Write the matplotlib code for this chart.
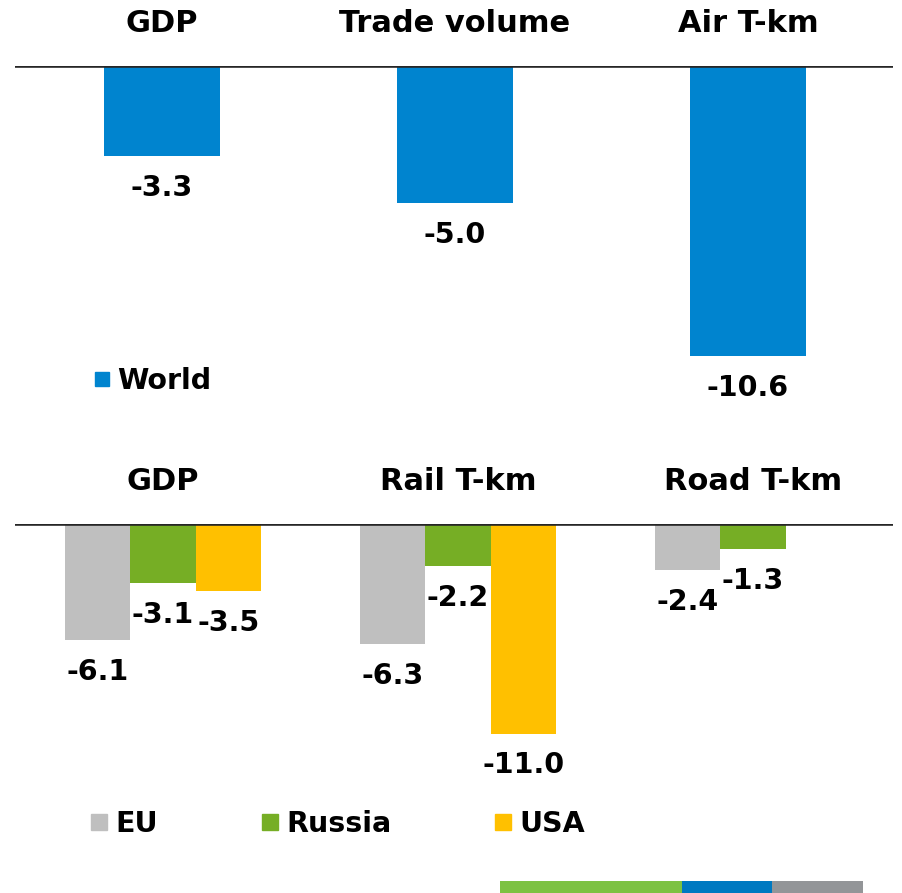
import matplotlib
matplotlib.use("Agg")
import matplotlib.pyplot as plt
from matplotlib.lines import Line2D

# data
top_cats = ["GDP", "Trade volume", "Air T-km"]
world = [-3.3, -5.0, -10.6]

bot_cats = ["GDP", "Rail T-km", "Road T-km"]
eu = [-6.1, -6.3, -2.4]
russia = [-3.1, -2.2, -1.3]
usa = [-3.5, -11.0, None]

strip_widths = [182, 90, 91]
strip_colors = ["#7DC242", "#0079C1", "#939598"]

c_world = "#0084CF"
c_eu = "#BFBFBF"
c_ru = "#76AE25"
c_us = "#FFC000"

W, H = 903, 893
plt.rcParams["font.family"] = "DejaVu Sans"
plt.rcParams["font.weight"] = "bold"
fig = plt.figure(figsize=(W / 100, H / 100), dpi=100)


def px_axes(x0, y0, x1, y1):
    # axes from pixel box (top-left origin)
    return fig.add_axes([x0 / W, 1 - y1 / H, (x1 - x0) / W, (y1 - y0) / H])


title_fs = 22
val_fs = 20.5
leg_fs = 20.5
line_c = "#262626"

# ---- top panel ----
ax1 = px_axes(15, 66, 893, 420)
scale1 = 27.35
ax1.set_xlim(-0.502, 2.495)
ax1.set_ylim(-(420 - 66) / scale1, 0)
x = range(len(world))
ax1.bar(x, world, width=0.396, color=c_world, label="World")
ax1.axhline(0, color=line_c, lw=2.6, zorder=5)
for i, v in enumerate(world):
    ax1.annotate(f"{v:.1f}", (i, v), xytext=(0, -23), textcoords="offset points",
                 ha="center", va="center", fontsize=val_fs, fontweight="bold")
    ax1.text(i, 42 / scale1, top_cats[i], ha="center", va="center",
             fontsize=title_fs, fontweight="bold", clip_on=False)
ax1.axis("off")
h1 = [Line2D([], [], marker="s", ls="none", color=c_world, markersize=10.5)]
ax1.legend(h1, ["World"], loc="center left", frameon=False,
           bbox_to_anchor=(94 / W, 1 - 381 / H), bbox_transform=fig.transFigure,
           handlelength=0.55, handletextpad=0.27,
           borderpad=0, borderaxespad=0, prop={"weight": "bold", "size": leg_fs})

# ---- bottom panel ----
ax2 = px_axes(15, 524, 893, 850)
scale2 = 19.05
ax2.set_xlim(-0.502, 2.475)
ax2.set_ylim(-(850 - 524) / scale2, 0)
bw = 0.222
for k, (vals, col) in enumerate([(eu, c_eu), (russia, c_ru), (usa, c_us)]):
    for i, v in enumerate(vals):
        if v is None:
            continue
        xi = i + (k - 1) * bw
        ax2.bar(xi, v, width=bw, color=col)
        ax2.annotate(f"{v:.1f}", (xi, v), xytext=(0, -23), textcoords="offset points",
                     ha="center", va="center", fontsize=val_fs, fontweight="bold")
ax2.axhline(0, color=line_c, lw=2.6, zorder=5)
for i, t in enumerate(bot_cats):
    ax2.text(i, 43 / scale2, t, ha="center", va="center",
             fontsize=title_fs, fontweight="bold", clip_on=False)
ax2.axis("off")
h2 = [Line2D([], [], marker="s", ls="none", color=c, markersize=11.5) for c in (c_eu, c_ru, c_us)]
ax2.legend(h2, ["EU", "Russia", "USA"], loc="center left", frameon=False, ncol=3,
           bbox_to_anchor=(91 / W, 1 - 824 / H), bbox_transform=fig.transFigure,
           handlelength=0.58, handletextpad=0.27, columnspacing=3.65,
           borderpad=0, borderaxespad=0, prop={"weight": "bold", "size": leg_fs})

# ---- bottom strip ----
ax3 = px_axes(500, 881, 863, 893)
left = 0
for w, c in zip(strip_widths, strip_colors):
    ax3.barh(0, w, left=left, height=1, color=c)
    left += w
ax3.set_xlim(0, sum(strip_widths))
ax3.set_ylim(-0.5, 0.5)
ax3.axis("off")

fig.savefig("out.png", dpi=100)
